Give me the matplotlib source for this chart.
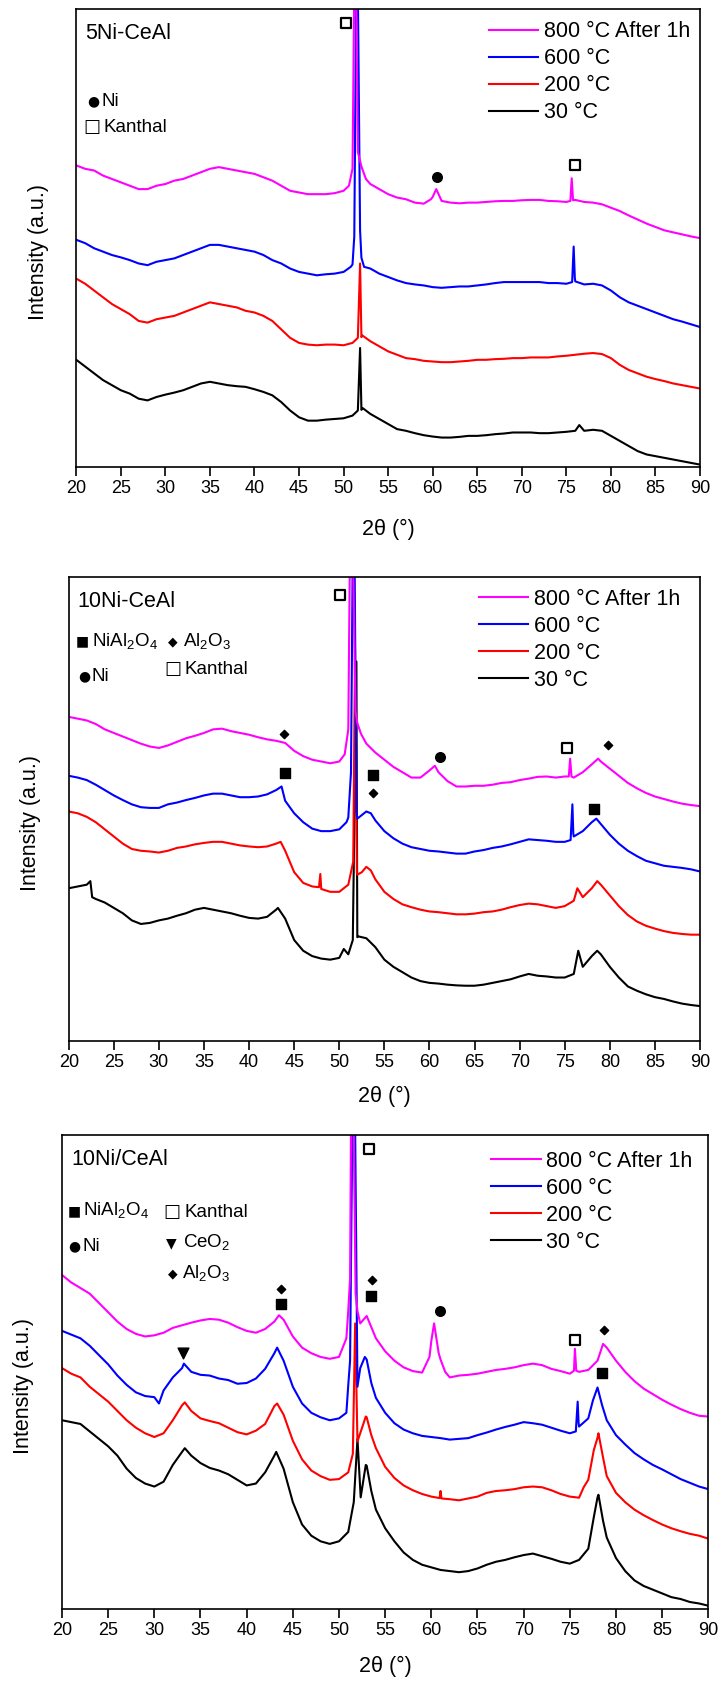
import numpy as np
import matplotlib
matplotlib.use('Agg')
import matplotlib.pyplot as plt
from matplotlib.transforms import ScaledTranslation

plt.rcParams['font.family'] = ['Liberation Sans', 'DejaVu Sans']
plt.rcParams['mathtext.fontset'] = 'custom'
plt.rcParams['mathtext.rm'] = 'Liberation Sans'
plt.rcParams['mathtext.it'] = 'Liberation Sans:italic'
plt.rcParams['mathtext.bf'] = 'Liberation Sans:bold'

# 2theta grid (1 degree); sharp peaks are added as extra points
two_theta = np.arange(20, 91)

series_labels = ['800 °C After 1h', '600 °C', '200 °C', '30 °C']
series_colors = ['#ff00ff', '#0000ff', '#ff0000', '#000000']

# ---------------- 5Ni-CeAl ----------------
p1_800 = [893, 883, 878, 863, 853, 843, 833, 823, 823, 833, 838, 848, 853, 863, 873, 883, 888, 883, 878, 873,
          868, 858, 848, 833, 818, 813, 808, 808, 808, 811, 818, 883, 890, 838, 823, 808, 798, 793, 783, 780,
          800, 788, 783, 781, 783, 783, 785, 787, 788, 788, 790, 791, 791, 788, 787, 785, 791, 785, 783, 778,
          768, 758, 745, 733, 721, 711, 701, 695, 689, 683, 678]
p1_800_pk = [(50.6, 833), (51.3, 1700), (51.6, 933), (52.5, 853), (59.8, 793), (60.4, 823),
             (75.45, 788), (75.6, 855), (75.75, 790)]
p1_600 = [673, 663, 648, 638, 628, 621, 613, 603, 598, 608, 613, 618, 628, 638, 648, 658, 658, 653, 648, 643,
          638, 628, 613, 603, 588, 578, 573, 568, 571, 573, 578, 600, 620, 588, 573, 563, 553, 545, 541, 538,
          533, 531, 533, 535, 535, 538, 541, 545, 548, 548, 548, 548, 548, 545, 545, 543, 550, 541, 543, 538,
          523, 503, 488, 478, 468, 458, 448, 438, 431, 423, 415]
p1_600_pk = [(50.8, 593), (51.2, 683), (51.5, 1700), (51.85, 700), (52.3, 593),
             (75.65, 548), (75.82, 653), (75.95, 560)]
p1_200 = [558, 543, 523, 503, 483, 468, 453, 433, 428, 438, 443, 448, 458, 468, 478, 488, 483, 478, 473, 463,
          458, 448, 433, 408, 383, 368, 363, 361, 363, 363, 361, 368, 385, 373, 358, 343, 333, 323, 320, 315,
          313, 311, 311, 313, 315, 318, 318, 320, 321, 323, 323, 325, 325, 325, 328, 330, 333, 336, 338, 335,
          323, 303, 288, 278, 268, 261, 255, 248, 243, 238, 233]
p1_200_pk = [(51.6, 383), (51.85, 603), (52.1, 390)]
p1_30 = [318, 298, 278, 258, 243, 228, 218, 203, 198, 208, 215, 221, 228, 238, 248, 253, 248, 243, 240, 238,
         231, 223, 213, 193, 168, 148, 138, 138, 141, 143, 145, 153, 170, 158, 143, 128, 113, 108, 101, 95,
         91, 88, 88, 90, 93, 93, 95, 98, 100, 103, 103, 103, 101, 101, 103, 105, 108, 108, 111, 108,
         93, 78, 63, 48, 38, 33, 28, 23, 18, 13, 8]
p1_30_pk = [(51.6, 168), (51.85, 353), (52.15, 175), (76.45, 125)]
p1_marks = [(50.26, 1313, 'osq'), (60.46, 858, 'ci'), (75.98, 893, 'osq')]

# ---------------- 10Ni-CeAl ----------------
p2_800 = [907, 902, 897, 887, 872, 862, 852, 842, 832, 824, 820, 827, 837, 847, 854, 862, 872, 874, 867, 862,
          857, 850, 844, 840, 834, 812, 797, 787, 782, 777, 782, 872, 890, 832, 807, 787, 767, 752, 737, 737,
          757, 752, 727, 712, 712, 714, 714, 717, 722, 724, 730, 734, 739, 740, 737, 740, 737, 752, 774, 782,
          762, 742, 722, 707, 694, 684, 677, 670, 664, 660, 657]
p2_800_pk = [(50.6, 802), (51.3, 1700), (51.8, 922), (52.4, 860), (60.6, 770),
             (75.45, 740), (75.6, 790), (75.75, 740), (78.7, 790)]
p2_600 = [742, 737, 730, 717, 702, 687, 674, 662, 654, 652, 652, 662, 667, 674, 680, 687, 692, 692, 687, 682,
          682, 684, 690, 702, 672, 637, 612, 594, 587, 587, 592, 625, 622, 642, 617, 587, 567, 552, 542, 537,
          532, 530, 527, 524, 524, 530, 534, 540, 544, 550, 557, 564, 562, 560, 557, 557, 572, 587, 612, 607,
          577, 552, 532, 517, 504, 497, 490, 487, 484, 480, 474]
p2_600_pk = [(43.6, 712), (50.8, 612), (51.3, 752), (51.6, 1700), (51.9, 640), (53.5, 637),
             (75.65, 562), (75.85, 662), (75.95, 580), (78.5, 622)]
p2_200 = [642, 637, 627, 612, 592, 572, 552, 537, 532, 530, 527, 532, 540, 544, 550, 554, 557, 557, 552, 547,
          544, 542, 544, 552, 532, 472, 442, 432, 425, 417, 417, 437, 465, 487, 452, 417, 397, 382, 374, 367,
          362, 360, 357, 354, 354, 356, 360, 362, 367, 374, 380, 384, 382, 377, 372, 377, 392, 402, 427, 437,
          407, 377, 352, 334, 322, 314, 307, 302, 299, 297, 297]
p2_200_pk = [(43.5, 557), (47.75, 430), (47.9, 467), (51.55, 502), (51.75, 1097), (51.95, 470),
             (52.5, 472), (53.5, 477), (76.4, 427), (78.6, 447)]
p2_30 = [427, 432, 437, 397, 387, 372, 357, 337, 327, 330, 337, 342, 350, 357, 367, 372, 367, 362, 357, 350,
         344, 342, 347, 367, 342, 282, 252, 237, 230, 227, 232, 242, 290, 287, 262, 227, 207, 192, 177, 167,
         162, 160, 157, 155, 154, 154, 157, 162, 167, 172, 180, 187, 182, 180, 177, 177, 187, 207, 237, 242,
         207, 177, 152, 140, 130, 122, 117, 110, 104, 100, 97]
p2_30_pk = [(22.4, 447), (22.6, 402), (43.2, 372), (50.5, 257), (51.5, 282), (51.9, 1062), (52.15, 292),
            (76.5, 252), (78.6, 252)]
p2_marks = [(50.06, 1249, 'osq'), (43.84, 859, 'di'), (43.94, 749, 'sq'), (53.78, 744, 'sq'),
            (53.78, 695, 'di'), (61.16, 795, 'ci'), (75.27, 819, 'osq'), (79.81, 827, 'di'),
            (78.28, 650, 'sq')]

# ---------------- 10Ni/CeAl ----------------
p3_800 = [897, 877, 862, 847, 822, 797, 772, 752, 739, 732, 735, 742, 755, 762, 769, 775, 779, 777, 769, 757,
          747, 742, 752, 772, 777, 732, 702, 687, 677, 672, 677, 800, 800, 787, 727, 692, 667, 649, 639, 635,
          720, 670, 622, 627, 629, 632, 637, 642, 645, 649, 655, 659, 655, 645, 639, 632, 637, 642, 667, 702,
          667, 637, 612, 592, 577, 562, 549, 537, 527, 519, 517]
p3_800_pk = [(43.5, 789), (50.8, 727), (51.2, 887), (51.4, 1700), (51.8, 847), (52.3, 767), (53.5, 757),
             (59.8, 677), (60.3, 767), (60.8, 687), (61.5, 637), (75.45, 640), (75.55, 699), (75.7, 640),
             (78.6, 712)]
p3_600 = [747, 737, 727, 707, 682, 657, 627, 602, 582, 572, 569, 587, 622, 647, 637, 629, 627, 619, 615, 605,
          607, 619, 645, 687, 667, 597, 552, 527, 515, 507, 512, 600, 597, 670, 567, 527, 499, 482, 472, 465,
          462, 459, 455, 457, 459, 467, 474, 482, 489, 495, 502, 499, 495, 487, 479, 472, 490, 512, 595, 507,
          467, 442, 419, 402, 387, 375, 362, 349, 339, 329, 322]
p3_600_pk = [(30.5, 552), (33.2, 659), (43.3, 702), (50.8, 527), (51.2, 667), (51.6, 1700), (52.3, 647),
             (52.8, 677), (53.5, 607), (75.65, 477), (75.85, 557), (75.95, 500), (77.5, 560), (78.5, 547)]
p3_200 = [647, 632, 622, 597, 577, 557, 532, 507, 487, 472, 462, 472, 507, 547, 532, 512, 505, 499, 487, 475,
          469, 479, 497, 545, 522, 452, 402, 372, 357, 347, 349, 367, 450, 515, 432, 382, 352, 332, 319, 309,
          302, 317, 295, 292, 297, 302, 312, 317, 319, 322, 327, 329, 327, 319, 309, 302, 299, 347, 460, 357,
          312, 287, 267, 252, 239, 227, 217, 209, 202, 197, 189]
p3_200_pk = [(33.3, 555), (43.3, 552), (51.5, 417), (51.75, 767), (52.5, 487), (52.9, 517), (53.5, 467),
             (60.9, 298), (61.1, 297), (76.5, 327), (77.6, 427), (78.1, 472), (78.6, 407)]
p3_30 = [507, 502, 497, 477, 457, 437, 412, 377, 352, 337, 329, 342, 387, 422, 412, 392, 379, 372, 362, 347,
         332, 337, 367, 412, 377, 287, 227, 197, 182, 175, 182, 207, 457, 385, 267, 217, 182, 152, 132, 119,
         112, 105, 102, 99, 102, 109, 119, 127, 132, 139, 145, 149, 142, 135, 127, 122, 132, 162, 300, 192,
         137, 102, 77, 62, 52, 42, 32, 27, 19, 15, 9]
p3_30_pk = [(33.3, 432), (43.2, 422), (51.6, 287), (52.35, 300), (52.9, 387), (53.5, 317),
            (77.6, 247), (78.1, 307), (78.6, 237)]
p3_marks = [(53.23, 1236, 'osq'), (43.67, 859, 'di'), (43.67, 818, 'sq'), (53.53, 884, 'di'),
            (53.43, 841, 'sq'), (60.96, 800, 'ci'), (33.10, 687, 'tri'), (75.51, 722, 'osq'),
            (78.69, 750, 'di'), (78.45, 634, 'sq')]

# phase keys shown in the upper-left corner: (symbol, label)
p1_keys = [('●', 'Ni'), ('□', 'Kanthal')]
p2_keys = [('■', r'NiAl$_2$O$_4$'), ('◆', r'Al$_2$O$_3$'), ('●', 'Ni'), ('□', 'Kanthal')]
p3_keys = [('■', r'NiAl$_2$O$_4$'), ('□', 'Kanthal'), ('●', 'Ni'), ('▼', r'CeO$_2$'), ('◆', r'Al$_2$O$_3$')]
sym_size = {'●': 10, '□': 13, '■': 10, '◆': 9, '▼': 10}


def merge(base, peaks):
    x = np.concatenate([two_theta, [p[0] for p in peaks]])
    y = np.concatenate([base, [p[1] for p in peaks]])
    order = np.argsort(x, kind='stable')
    return x[order], y[order]


mark_style = {
    'sq': dict(marker='s', s=42, c='k'),
    'osq': dict(marker='s', s=50, facecolors='white', edgecolors='k', linewidths=1.6),
    'ci': dict(marker='o', s=48, c='k'),
    'di': dict(marker='D', s=18, c='k'),
    'tri': dict(marker='v', s=60, c='k'),
}

fig = plt.figure(figsize=(7.21, 16.84), dpi=100)

panels = [
    dict(rect=[0.1058, 0.7225, 0.8651, 0.2720], ymax=1355, name='5Ni-CeAl',
         curves=[(p1_800, p1_800_pk), (p1_600, p1_600_pk), (p1_200, p1_200_pk), (p1_30, p1_30_pk)],
         marks=p1_marks, keys=p1_keys,
         key_pos=[(0.0273, 0.804, 0.0407), (0.0252, 0.746, 0.0444)],
         leg=(0.984, 0.974), xl=-0.1127),
    dict(rect=[0.0953, 0.3820, 0.8756, 0.2752], ymax=1298, name='10Ni-CeAl',
         curves=[(p2_800, p2_800_pk), (p2_600, p2_600_pk), (p2_200, p2_200_pk), (p2_30, p2_30_pk)],
         marks=p2_marks, keys=p2_keys,
         key_pos=[(0.0222, 0.867, 0.0364), (0.165, 0.867, 0.1806), (0.0242, 0.791, 0.0364),
                  (0.1647, 0.805, 0.184)],
         leg=(0.968, 0.975), xl=-0.0984),
    dict(rect=[0.0860, 0.0445, 0.8964, 0.2813], ymax=1272, name='10Ni/CeAl',
         curves=[(p3_800, p3_800_pk), (p3_600, p3_600_pk), (p3_200, p3_200_pk), (p3_30, p3_30_pk)],
         marks=p3_marks, keys=p3_keys,
         key_pos=[(0.0186, 0.845, 0.032), (0.170, 0.842, 0.1888), (0.0186, 0.7705, 0.032),
                  (0.1697, 0.7775, 0.1867), (0.171, 0.714, 0.1852)],
         leg=(0.975, 0.968), xl=-0.0984),
]

for pan in panels:
    ax = fig.add_axes(pan['rect'])
    handles = []
    # draw 30 °C first so the 800 °C curve is on top
    for (base, pk), lab, col in reversed(list(zip(pan['curves'], series_labels, series_colors))):
        x, y = merge(base, pk)
        h, = ax.plot(x, y, color=col, lw=1.5, label=lab)
        handles.append(h)
    handles = handles[::-1]

    for kind in mark_style:
        pts = [(m[0], m[1]) for m in pan['marks'] if m[2] == kind]
        if pts:
            ax.scatter([p[0] for p in pts], [p[1] for p in pts], zorder=5, clip_on=False, **mark_style[kind])

    ax.set_xlim(20, 90)
    ax.set_ylim(0, pan['ymax'])
    ax.set_xticks(np.arange(20, 91, 5))
    ax.set_yticks([])
    ax.tick_params(axis='x', direction='out', length=6.3, width=1.2, labelsize=13, pad=3)
    for sp in ax.spines.values():
        sp.set_linewidth(1.2)

    ax.set_xlabel('2θ (°)', fontsize=15.5)
    ax.xaxis.set_label_coords(0.5, pan['xl'])
    ax.set_ylabel('Intensity (a.u.)', fontsize=15.5)
    ax.yaxis.set_label_coords(-0.044, 0.47)

    ax.text(0.014, 0.948, pan['name'], transform=ax.transAxes, fontsize=15.5, ha='left', va='center')

    base_tr = ax.transAxes + ScaledTranslation(0, -4.8 / 72, fig.dpi_scale_trans)
    for (sym, lab), (sx, sy, lx) in zip(pan['keys'], pan['key_pos']):
        ax.text(sx, sy, sym, transform=base_tr, fontsize=sym_size[sym], ha='center', va='baseline',
                family=['DejaVu Sans'])
        ax.text(lx, sy, lab, transform=base_tr, fontsize=13.5, ha='left', va='baseline')

    ax.legend(handles=handles, loc='upper right', bbox_to_anchor=pan['leg'], frameon=False,
              fontsize=15.5, handlelength=2.3, handletextpad=0.25, labelspacing=0.28,
              borderpad=0, borderaxespad=0)

fig.savefig('out.png', dpi=100)
